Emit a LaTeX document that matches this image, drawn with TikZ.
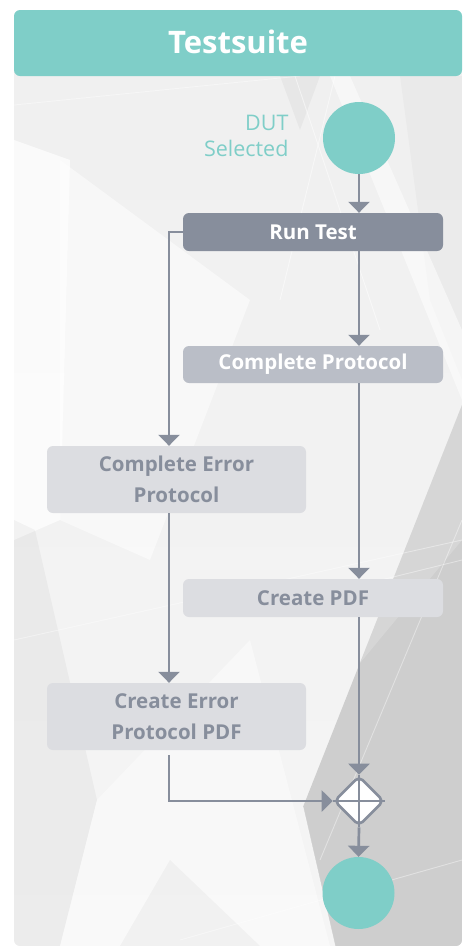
\documentclass[tikz,border=0pt]{standalone}
\usepackage{fontspec}
\setmainfont{Open Sans}
\usetikzlibrary{arrows.meta,shapes.geometric}
\definecolor{teal}{HTML}{7FCEC8}
\definecolor{slate}{HTML}{878E9C}
\definecolor{midbox}{HTML}{BABEC7}
\definecolor{lightbox}{HTML}{DCDDE1}
\definecolor{bgdark}{HTML}{CECECE}
\tikzset{
  flowbox/.style={rectangle, rounded corners=6pt, minimum width=260pt, inner sep=0pt,
    font=\bfseries\fontsize{20.5}{31}\selectfont, align=center},
  darkbox/.style={flowbox, fill=slate, text=white, minimum height=38pt},
  midbx/.style={flowbox, fill=midbox, text=white, minimum height=37pt},
  lightbx/.style={flowbox, fill=lightbox, text=slate},
  terminal/.style={circle, fill=teal, minimum size=72pt, inner sep=0pt},
  arr/.style={draw=slate, line width=2.7pt, -{Triangle[width=21pt,length=11pt]}},
  streak/.style={draw=white, line width=0.9pt, opacity=0.6},
}
\begin{document}
\begin{tikzpicture}[x=1pt,y=-1pt]
\useasboundingbox (0,0) rectangle (470,946);
% background panel
\begin{scope}
\clip[rounded corners=6pt] (14,60) rectangle (462,946);
\shade[top color=white!94!black, bottom color=white!96!black] (14,60) rectangle (462,946);
% soft facets
\fill[white, opacity=0.7] (14,140) -- (70,160) -- (60,520) -- (14,540) -- cycle;
\fill[white, opacity=0.5] (60,160) -- (250,300) -- (150,560) -- (60,520) -- cycle;
\fill[black, opacity=0.035] (14,520) -- (35,530) -- (97,800) -- (60,946) -- (14,946) -- cycle;
\fill[white, opacity=0.45] (97,800) -- (250,640) -- (330,946) -- (60,946) -- cycle;
\fill[black, opacity=0.03] (170,860) -- (260,946) -- (120,946) -- cycle;
\fill[black, opacity=0.035] (280,76) -- (320,76) -- (300,130) -- cycle;
\fill[black, opacity=0.025] (400,76) -- (462,76) -- (462,380) -- (430,300) -- cycle;
\fill[white, opacity=0.5] (330,76) -- (350,76) -- (462,330) -- (462,400) -- cycle;
% dark lower-right facet
\fill[bgdark] (462,405) -- (462,946) -- (335,946) -- (303,807) -- cycle;
\fill[white, opacity=0.18] (462,405) -- (462,540) -- (360,663) -- cycle;
\draw[streak] (303,807) -- (335,946);
\draw[streak, opacity=0.4] (462,560) -- (300,600);
\draw[streak, opacity=0.4] (462,520) -- (320,860);
\draw[streak, opacity=0.4] (14,105) -- (300,76);
\draw[streak, opacity=0.5] (295,76) -- (380,330);
\draw[streak, opacity=0.5] (335,76) -- (280,300);
\draw[streak, opacity=0.4] (14,640) -- (462,540);
\draw[streak, opacity=0.4] (180,940) -- (462,860);
\end{scope}
% header
\fill[teal, rounded corners=6pt] (14,10) rectangle (462,76);
\node[text=white, font=\fontsize{31}{36}\selectfont\bfseries] (title) at (238,42) {Testsuite};
% nodes
\node[terminal] (start) at (359,138) {};
\node[text=teal, font=\fontsize{21.5}{26}\selectfont, align=right, anchor=east] (dut) at (292,136) {DUT\\Selected};
\node[darkbox] (run) at (313,232) {Run Test};
\node[midbx] (cp) at (313,364.5) {Complete Protocol};
\node[lightbx, minimum width=259pt, minimum height=67pt] (cep) at (176.5,479.5) {Complete Error\\Protocol};
\node[lightbx, minimum height=38pt] (pdf) at (313,598) {Create PDF};
\node[lightbx, minimum width=259pt, minimum height=67pt] (cepdf) at (176.5,716.5) {Create Error\\Protocol PDF};
\node[diamond, draw=slate, line width=2.7pt, fill=white, minimum width=50pt, minimum height=50pt, inner sep=0pt, rounded corners=5pt] (merge) at (359,801) {};
\draw[slate, line width=2.3pt] (merge.north) -- (merge.south) (merge.west) -- (merge.east);
\node[terminal] (end) at (358.5,893) {};
\coordinate (lx) at (169,0);
% connectors
\draw[arr] (start.south) -- (start.south |- run.north);
\draw[arr] (run.west) -| (lx |- cep.north);
\draw[arr] (run.south -| start) -- (cp.north -| start);
\draw[arr] (cp.south -| start) -- (pdf.north -| start);
\draw[arr] (cep.south -| lx) -- (cepdf.north -| lx);
\draw[arr] (pdf.south -| merge) -- (merge.north);
\draw[arr, shorten <=5pt] (cepdf.south -| lx) |- (merge.west);
\draw[arr] (merge.south) -- (end.north);
\end{tikzpicture}
\end{document}
